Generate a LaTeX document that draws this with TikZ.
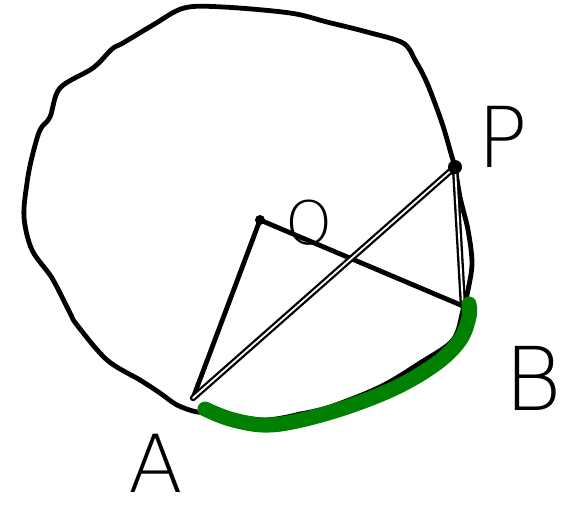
\documentclass[tikz,border=0pt]{standalone}
\usepackage{fontspec}
\newfontfamily\handfont{DejaVuSans-ExtraLight.ttf}
\begin{document}
\begin{tikzpicture}[x=1pt,y=-1pt,
  ink/.style={line width=4.8pt,line cap=round,line join=round,black},
  dbl/.style={line width=2.3pt,double=white,double distance=1.8pt,line cap=round,black},
  arcgreen/.style={line width=15pt,line cap=round,line join=round,color={rgb,255:red,0;green,128;blue,0}},
  dot/.style={circle,fill=black,inner sep=0pt},
  lbl/.style={font=\handfont,anchor=base,inner sep=0pt}]
\useasboundingbox (0,0) rectangle (564,511);
% outline of the circle
\draw[ink] plot[smooth,tension=0.55] coordinates {
 (300,414) (263,420) (213,412) (197,412) (177,405) (160,393) (140,380) (107,360)
 (77,325) (70,313) (52,278) (32,250) (24,217) (27,183) (32,157) (40,130) (50,117)
 (60,88) (93,68) (112,49) (123,43) (153,25) (184,8) (223,7) (290,13) (327,22)
 (367,32) (403,43) (415,60) (427,83) (442,123) (452,157) (455,167) (460,197)
 (468,230) (472,263) (468,290) (463,310) (453,340) (420,363) (380,387) (330,407) (300,414)};
% points
\coordinate (A) at (193,398);
\coordinate (B) at (463,306);
\coordinate (Pc) at (455,167);
\coordinate (Oc) at (260,220);
% lines
\draw[ink] (Oc) -- (A);
\draw[ink] (Oc) -- (B);
\draw[dbl] (Pc) -- (A);
\draw[dbl] (Pc) -- (B);
% dots
\node[dot,minimum size=14pt] (P) at (Pc) {};
\node[dot,minimum size=10pt] (O) at (Oc) {};
% green arc
\draw[arcgreen] plot[smooth,tension=0.6] coordinates {
 (205,409) (230,419) (263,425) (297,421) (347,407) (397,387) (437,363) (460,340) (469,317) (469,304)};
% labels
\node[lbl,font=\handfont\fontsize{84}{84}\selectfont] (lP) at (503,167) {P};
\node[lbl,font=\handfont\fontsize{60}{60}\selectfont] (lO) at (309,244) {O};
\node[lbl,font=\handfont\fontsize{80}{80}\selectfont] (lA) at (156,492) {A};
\node[lbl,font=\handfont\fontsize{88}{88}\selectfont] (lB) at (533,410) {B};
\end{tikzpicture}
\end{document}
